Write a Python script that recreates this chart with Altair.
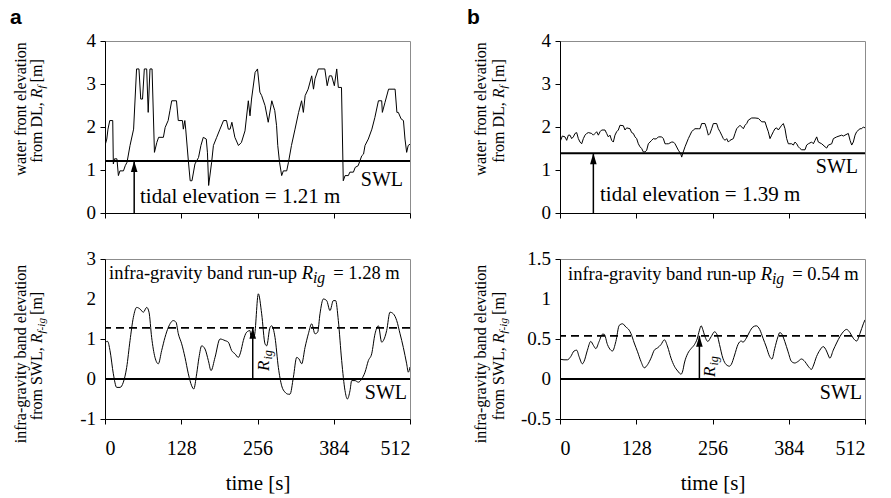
import altair as alt
import pandas as pd

# ---------------- data ----------------
# panel a, top: water front elevation from DL, R_f [m]
A_TOP_T = [0, 3, 5, 8, 13, 14, 16, 20, 22.5, 25, 31, 34, 37, 42, 48, 53, 57, 60, 63, 66, 70, 72.5, 75.5, 79, 83,
           87, 90, 98, 101, 106, 109, 112, 120, 123, 130, 131.5, 134, 135.5, 140, 143, 146, 151, 157, 161, 165, 170,
           172, 174, 179, 182, 187.5, 193, 199, 204, 207, 210, 213, 218, 224, 229, 235, 240.6, 243.4, 246, 252, 256,
           260, 263, 268.6, 274, 280, 285, 288, 290, 293, 296.6, 299.4, 305, 308, 313, 319, 325, 330, 333, 336, 341,
           347, 350, 352.5, 358, 369, 373, 376.6, 380.5, 385, 389, 391.7, 397, 400, 403, 408.5, 411, 417, 420, 425,
           431, 434, 436.5, 442, 448, 453, 459, 464.5, 465.6, 470, 476, 487, 490, 492.4, 497, 501, 503.6, 506.4, 509, 512]
A_TOP_V = [1.57, 1.72, 1.95, 2.15, 2.15, 1.14, 1.26, 1.26, 0.87, 0.98, 0.98, 1.10, 1.18, 1.57, 1.95, 3.35, 3.35, 2.65,
           2.65, 3.35, 3.35, 2.34, 3.35, 3.35, 1.41, 1.64, 1.76, 1.76, 1.99, 2.15, 2.38, 2.61, 2.61, 2.15, 2.15, 1.95,
           2.15, 1.95, 1.20, 0.75, 0.75, 1.14, 1.29, 1.57, 1.76, 1.72, 1.40, 0.64, 1.18, 1.57, 1.76, 1.95, 2.15, 2.15,
           1.95, 1.95, 2.11, 1.76, 1.57, 1.64, 1.91, 2.61, 2.26, 2.65, 3.27, 3.35, 2.81, 2.73, 2.50, 2.11, 2.61, 2.38,
           2.03, 1.57, 1.18, 0.87, 0.98, 0.98, 1.18, 1.57, 1.95, 2.34, 2.61, 2.34, 2.73, 2.88, 3.19, 2.88, 3.12, 3.35,
           3.35, 2.96, 3.19, 3.19, 2.96, 3.35, 2.92, 2.92, 0.75, 0.87, 0.87, 0.95, 0.95, 1.06, 1.10, 1.33, 1.37, 1.57,
           1.72, 1.95, 2.22, 2.61, 2.61, 2.34, 2.57, 2.88, 2.88, 2.34, 2.34, 2.19, 2.15, 1.72, 1.41, 1.57, 1.60]

# panel a, bottom: infra-gravity band elevation from SWL [m]
A_BOT_T = [0, 4.5, 8.4, 14, 19.6, 25.2, 30.8, 36.4, 42, 47.6, 53.2, 58.8, 64.4, 70, 73.9, 78.3, 83.9, 89.5, 95.1,
           100.7, 106.3, 114.7, 119.2, 123.1, 128.7, 134.3, 139.9, 145.5, 148.9, 153.9, 157.8, 162.3, 167.9, 173.5,
           178, 184.7, 193.1, 201.5, 207, 212.6, 218.2, 223.8, 227.7, 232.2, 237.8, 243.4, 245.1, 250.7, 257.4, 263,
           268.6, 271.4, 277, 279.8, 285.4, 291, 296.6, 302.2, 307.8, 310.6, 316.2, 321.8, 325.7, 330.2, 335.8, 341.4,
           347, 352.5, 357, 360.9, 366.5, 372.1, 377.7, 383.3, 387.2, 391.7, 397.3, 402.9, 406.8, 411.3, 414.1, 419.7,
           425.3, 430.9, 436.5, 442.1, 447.7, 453.3, 458.9, 464.5, 467.3, 472.8, 478.4, 484, 489.7, 495.3, 500.8,
           506.4, 509.2, 512]
A_BOT_V = [0.92, 0.94, 0.71, 0.13, -0.21, -0.21, -0.08, 0.29, 0.96, 1.54, 1.79, 1.75, 1.67, 1.79, 1.67, 1.04, 0.54,
           0.38, 0.71, 1.04, 1.29, 1.46, 1.42, 1.13, 0.88, 0.54, 0.13, -0.17, -0.25, 0.13, 0.54, 0.83, 0.75, 0.46,
           0.21, 0.54, 1.0, 0.96, 0.92, 0.71, 0.63, 0.54, 0.67, 0.96, 1.17, 1.21, 1.04, 1.08, 2.13, 1.63, 0.88, 0.83,
           1.29, 1.33, 1.04, 0.29, -0.17, -0.33, -0.38, -0.38, 0.04, 0.54, 0.50, 0.38, 0.79, 1.13, 1.38, 1.13, 1.17,
           1.63, 2.0, 1.96, 1.71, 1.96, 1.96, 1.46, 0.46, -0.29, -0.5, -0.29, -0.04, -0.04, -0.08, 0.0, 0.17, 0.46,
           0.63, 1.13, 1.33, 0.92, 0.96, 1.21, 1.67, 1.63, 1.46, 1.13, 0.79, 0.38, 0.17, 0.3]

# panel b, top
B_TOP_T = [0, 3.9, 8.4, 11.2, 14, 16.8, 19.6, 22.4, 25.2, 28, 30.8, 33.6, 36.4, 39.2, 42, 44.8, 47.6, 53.2, 56, 58.8,
           61.6, 64.4, 67.2, 70, 75.5, 78.3, 81.1, 83.9, 86.7, 89.5, 92.3, 95.1, 97.9, 100.7, 106.3, 109.1, 111.9,
           117.5, 120.3, 123.1, 125.9, 128.7, 131.5, 134.3, 137.1, 139.9, 142.7, 145.5, 148.3, 153.9, 156.7, 159.5,
           162.3, 165.1, 170.7, 173.5, 176.3, 179.1, 181.9, 187.5, 190.3, 193.1, 198.7, 202.6, 204.3, 205.9, 209.9,
           215.4, 218.2, 221, 223.8, 226.6, 232.2, 235, 237.8, 243.4, 246.2, 249, 251.8, 254.6, 257.4, 263, 265.8,
           268.6, 271.4, 274.2, 277, 279.8, 282.6, 285.4, 291, 293.8, 296.6, 302.2, 305, 307.8, 310.6, 313.4, 316.2,
           321.8, 327.4, 333, 338.6, 344.2, 346.9, 349.7, 352.5, 355.3, 358.1, 360.9, 363.7, 366.5, 372.1, 374.9,
           377.7, 380.5, 383.3, 388.9, 391.7, 394.5, 397.3, 400.1, 402.9, 405.7, 411.3, 414.1, 416.9, 422.5, 425.3,
           428.1, 430.9, 433.7, 439.3, 444.9, 447.7, 450.5, 456.1, 458.9, 464.5, 472.8, 475.7, 478.4, 484, 486.9,
           489.7, 492.4, 495.3, 498, 503.6, 506.4, 509.2, 512]
B_TOP_V = [1.65, 1.79, 1.77, 1.69, 1.81, 1.81, 1.73, 1.77, 1.85, 1.87, 1.73, 1.65, 1.61, 1.73, 1.81, 1.85, 1.87, 1.85,
           1.81, 1.85, 1.89, 1.81, 1.89, 1.93, 1.93, 1.85, 1.77, 1.81, 1.69, 1.65, 1.81, 1.89, 1.93, 2.04, 2.03, 1.93,
           1.98, 1.96, 1.87, 1.85, 1.77, 1.73, 1.61, 1.54, 1.50, 1.42, 1.42, 1.46, 1.61, 1.69, 1.73, 1.72, 1.73, 1.77,
           1.77, 1.73, 1.61, 1.61, 1.61, 1.65, 1.65, 1.61, 1.46, 1.38, 1.30, 1.38, 1.54, 1.73, 1.81, 1.89, 1.93, 1.96,
           1.96, 1.96, 2.08, 2.08, 1.96, 1.81, 1.85, 1.96, 2.08, 2.08, 1.96, 1.89, 1.81, 1.73, 1.69, 1.73, 1.65, 1.69,
           1.73, 1.85, 1.96, 2.04, 2.00, 1.96, 2.04, 2.08, 2.16, 2.21, 2.21, 2.20, 2.12, 2.12, 2.00, 1.89, 1.73, 1.81,
           1.89, 1.96, 1.98, 1.93, 2.04, 2.08, 1.96, 1.73, 1.61, 1.61, 1.58, 1.65, 1.61, 1.54, 1.50, 1.47, 1.47, 1.58,
           1.61, 1.65, 1.61, 1.69, 1.77, 1.65, 1.61, 1.54, 1.51, 1.58, 1.61, 1.73, 1.77, 1.81, 1.79, 1.81, 1.85, 1.69,
           1.58, 1.65, 1.81, 1.89, 1.96, 1.96, 2.00, 1.98]

# panel b, bottom
B_BOT_T = [0, 6.7, 12.4, 18, 23.6, 28.1, 32, 37.6, 40.4, 46, 51.6, 56.1, 60.1, 65.7, 71.3, 74.1, 79.7, 85.3, 88.1,
           93.8, 99.4, 105, 110.6, 116.2, 119, 124.6, 130.2, 135.9, 141.5, 147.1, 152.7, 158.3, 163.9, 169.5, 175.2,
           180.8, 186.4, 192, 197.6, 203.2, 206, 208.8, 214.5, 220.1, 225.7, 230.2, 234.1, 236.9, 239.7, 242.5, 248.1,
           253.8, 259.4, 263.9, 267.8, 273.4, 279, 284.6, 287.4, 293.1, 298.7, 304.3, 307.1, 312.7, 318.3, 323.9,
           329.5, 335.2, 340.8, 346.4, 352, 355.9, 360.4, 366, 368.8, 371.6, 377.3, 382.9, 388.5, 394.1, 399.7, 405.3,
           410.9, 416.6, 422.2, 425, 430.6, 436.2, 441.8, 447.4, 450.2, 453, 458.7, 464.3, 469.9, 475.5, 481.1, 486.7,
           492.3, 498, 503.6, 509.2, 512]
B_BOT_V = [0.25, 0.24, 0.24, 0.28, 0.35, 0.36, 0.28, 0.19, 0.22, 0.36, 0.47, 0.42, 0.38, 0.47, 0.56, 0.56, 0.43, 0.36,
           0.35, 0.47, 0.67, 0.69, 0.65, 0.61, 0.57, 0.45, 0.34, 0.22, 0.14, 0.18, 0.26, 0.36, 0.39, 0.43, 0.49, 0.40,
           0.26, 0.16, 0.10, 0.06, 0.10, 0.20, 0.32, 0.38, 0.43, 0.50, 0.61, 0.665, 0.62, 0.55, 0.47, 0.53, 0.59, 0.55,
           0.43, 0.26, 0.18, 0.16, 0.18, 0.30, 0.43, 0.475, 0.46, 0.51, 0.59, 0.65, 0.665, 0.62, 0.51, 0.40, 0.28,
           0.25, 0.38, 0.53, 0.58, 0.57, 0.47, 0.34, 0.22, 0.20, 0.22, 0.25, 0.22, 0.16, 0.12, 0.16, 0.28, 0.36,
           0.405, 0.35, 0.30, 0.26, 0.36, 0.45, 0.53, 0.59, 0.62, 0.58, 0.51, 0.475, 0.57, 0.69, 0.74]

TIDE = {"a": 1.21, "b": 1.39}          # tidal elevation (SWL) [m]
RIG = {"a": 1.28, "b": 0.54}           # infra-gravity run-up [m]
TIDE_ARROW_T = {"a": 49, "b": 56}      # time where the tide arrow is drawn [s]
RIG_ARROW_T = {"a": 248, "b": 234}     # time where the R_ig arrow is drawn [s]

# ---------------- styling helpers ----------------
SERIF = "Liberation Serif"
SANS = "Liberation Sans"
W = 305
ARROW = "M0,-1L0.6,1L-0.6,1Z"
ONE = pd.DataFrame({"k": [0]})

REG = {' ': 250, ',': 250, '-': 333, '.': 250, '=': 564, '[': 333, ']': 333, 'D': 722, 'L': 611, 'R': 667,
       'S': 556, 'W': 944, 'a': 444, 'b': 500, 'd': 500, 'e': 444, 'f': 333, 'g': 500, 'i': 278, 'l': 278,
       'm': 778, 'n': 500, 'o': 500, 'p': 500, 'r': 333, 's': 389, 't': 278, 'u': 500, 'v': 500, 'w': 722, 'y': 500}
ITA = {'R': 611, 'f': 278, 'i': 278, 'g': 500, '-': 333}


def tw(s, size, italic=False):
    tab = ITA if italic else REG
    return sum(tab.get(c, REG.get(c, 500)) for c in s) * size / 1000.0


def txt(text, x, y, size, align="left", baseline="alphabetic", angle=0, italic=False, bold=False, font=SERIF):
    props = dict(text=text, fontSize=size, align=align, baseline=baseline, font=font, color="black",
                 fontStyle="italic" if italic else "normal", fontWeight="bold" if bold else "normal")
    if angle:
        props["angle"] = angle
    return alt.Chart(ONE).mark_text(**props).encode(x=alt.value(x), y=alt.value(y))


def vrich(segs, xbase, ycenter, size):
    """rotated (reading upward) text made of (text, italic, small, shift) segments"""
    widths = [tw(s, size * (0.7 if small else 1), it) + (3 if small else 0) for s, it, small, sh in segs]
    y = ycenter + sum(widths) / 2.0
    out = []
    for (s, it, small, sh), w in zip(segs, widths):
        out.append(txt(s, xbase + sh, y, size * (0.7 if small else 1), angle=270, italic=it))
        y -= w
    return out


def hrich(segs, x0, ybase, size):
    out = []
    x = x0
    for s, it, small, sh in segs:
        sz = size * (0.85 if small else 1)
        out.append(txt(s, x, ybase + sh, sz, italic=it))
        x += tw(s, sz, it) + (8 if small else 0)
    return out


def panel(t, v, ydom, labstep, height, top, key, smooth):
    minor = [ydom[0] + 0.25 * i for i in range(int(round((ydom[1] - ydom[0]) / 0.25)) + 1)]
    major = [m for m in minor if abs(m / labstep - round(m / labstep)) < 1e-9]
    if top:
        xaxis = alt.Axis(values=list(range(0, 513, 32)), labels=False, title=None)
    else:
        xaxis = alt.Axis(values=list(range(0, 513, 32)), title="time [s]", labelOverlap=False,
                         labelExpr="datum.value % 128 == 0 ? '' + datum.value : ''")
    yaxis = alt.Axis(values=minor, labels=False, title=None)
    yscale = alt.Scale(domain=list(ydom), nice=False, zero=False)
    df = pd.DataFrame({"t": t, "v": v})
    line = alt.Chart(df).mark_line(color="black", strokeWidth=1, clip=True,
                                   interpolate="monotone" if smooth else "linear").encode(
        x=alt.X("t:Q", scale=alt.Scale(domain=[0, 512], nice=False, zero=False), axis=xaxis),
        y=alt.Y("v:Q", scale=yscale, axis=yaxis),
    )
    # y tick labels (every 1 m, or 0.5 m) drawn as text so none is dropped
    ylabels = alt.Chart(pd.DataFrame({"m": major, "lab": [f"{m:g}" for m in major]})).mark_text(
        align="right", baseline="middle", font=SERIF, fontSize=19, color="black").encode(
        x=alt.value(-9), y=alt.Y("m:Q", scale=yscale, axis=yaxis), text="lab:N")
    swl_val = TIDE[key] if top else 0
    layers = [line, ylabels,
              alt.Chart(ONE).mark_rule(color="black", strokeWidth=2).encode(y=alt.datum(swl_val))]
    if top:
        at, atop = TIDE_ARROW_T[key], TIDE[key]
    else:
        at, atop = RIG_ARROW_T[key], RIG[key]
        layers.append(alt.Chart(ONE).mark_rule(color="black", strokeWidth=1.8, strokeDash=[8, 5])
                      .encode(y=alt.datum(RIG[key])))
    layers.append(alt.Chart(ONE).mark_rule(color="black", strokeWidth=1.5)
                  .encode(x=alt.datum(at), y=alt.datum(0), y2=alt.datum(atop)))
    layers.append(alt.Chart(ONE).mark_point(shape=ARROW, filled=True, size=121, color="black", opacity=1,
                                            strokeWidth=0, yOffset=5.5)
                  .encode(x=alt.datum(at), y=alt.datum(atop)))

    left = key == "a"
    xb1, xb2 = (-79, -63) if left else (-74, -56)
    if top:
        layers.append(txt(f"tidal elevation = {TIDE[key]:.2f} m", 35 if left else 40, 162 if left else 160, 21))
        layers.append(txt("SWL", 298, 145 if left else 132, 20, align="right"))
        layers.append(txt("a" if left else "b", -95 if left else -93, -17, 21, bold=True, font=SANS))
        yc = height / 2 - 18
        layers += vrich([("water front elevation", False, False, 0)], xb1, yc, 16)
        layers += vrich([("from DL, ", False, False, 0), ("R", True, False, 0), ("f", True, True, 3),
                         (" [m]", False, False, 0)], xb2, yc, 16)
    else:
        layers += hrich([("infra-gravity band run-up ", False, False, 0), ("R", True, False, 0),
                         ("ig", True, True, 4), (f"= {RIG[key]:.2f} m", False, False, 0)],
                        4 if left else 8, 20 if left else 21, 18.5)
        layers.append(txt("SWL", 302, 140, 20, align="right"))
        layers.append(alt.Chart(ONE).mark_text(text="R", angle=270, align="left", baseline="top", font=SERIF,
                                               fontStyle="italic", fontSize=17, color="black",
                                               dx=8 if left else 2, dy=3)
                      .encode(x=alt.datum(at), y=alt.datum(0)))
        layers.append(alt.Chart(ONE).mark_text(text="ig", angle=270, align="left", baseline="top", font=SERIF,
                                               fontStyle="italic", fontSize=12, color="black",
                                               dx=(8 if left else 2) + tw("R", 17, True) + 1, dy=10)
                      .encode(x=alt.datum(at), y=alt.datum(0)))
        yc = height / 2 + 15
        layers += vrich([("infra-gravity band elevation", False, False, 0)], xb1, yc, 16)
        layers += vrich([("from SWL, ", False, False, 0), ("R", True, False, 0), ("f-ig", True, True, 3),
                         (" [m]", False, False, 0)], xb2, yc, 16)
    return alt.layer(*layers).properties(width=W, height=height)


a_top = panel(A_TOP_T, A_TOP_V, (0, 4), 1, 172, True, "a", False)
a_bot = panel(A_BOT_T, A_BOT_V, (-1, 3), 1, 160, False, "a", True)
b_top = panel(B_TOP_T, B_TOP_V, (0, 4), 1, 172, True, "b", False)
b_bot = panel(B_BOT_T, B_BOT_V, (-0.5, 1.5), 0.5, 160, False, "b", True)

chart = (
    alt.concat(a_top, b_top, a_bot, b_bot, columns=2, bounds="flush",
               spacing={"row": 46, "column": 150})
    .properties(padding={"left": 9, "top": 6, "right": 5, "bottom": 5}, background="white")
    .configure_view(stroke="#8c8c8c", strokeWidth=1)
    .configure_axis(grid=False, domainColor="black", domainWidth=1, tickColor="black", tickSize=5,
                    tickWidth=1, labelColor="black", labelFont=SERIF, titleFont=SERIF, titleColor="black",
                    titleFontWeight="normal", labelOverlap=False)
    .configure_axisX(labelFontSize=20, labelPadding=14, titleFontSize=21, titlePadding=14)
    .configure_axisY(labelFontSize=19, labelPadding=4)
)

chart.save("out.html", embed_options={"renderer": "svg", "actions": False})
